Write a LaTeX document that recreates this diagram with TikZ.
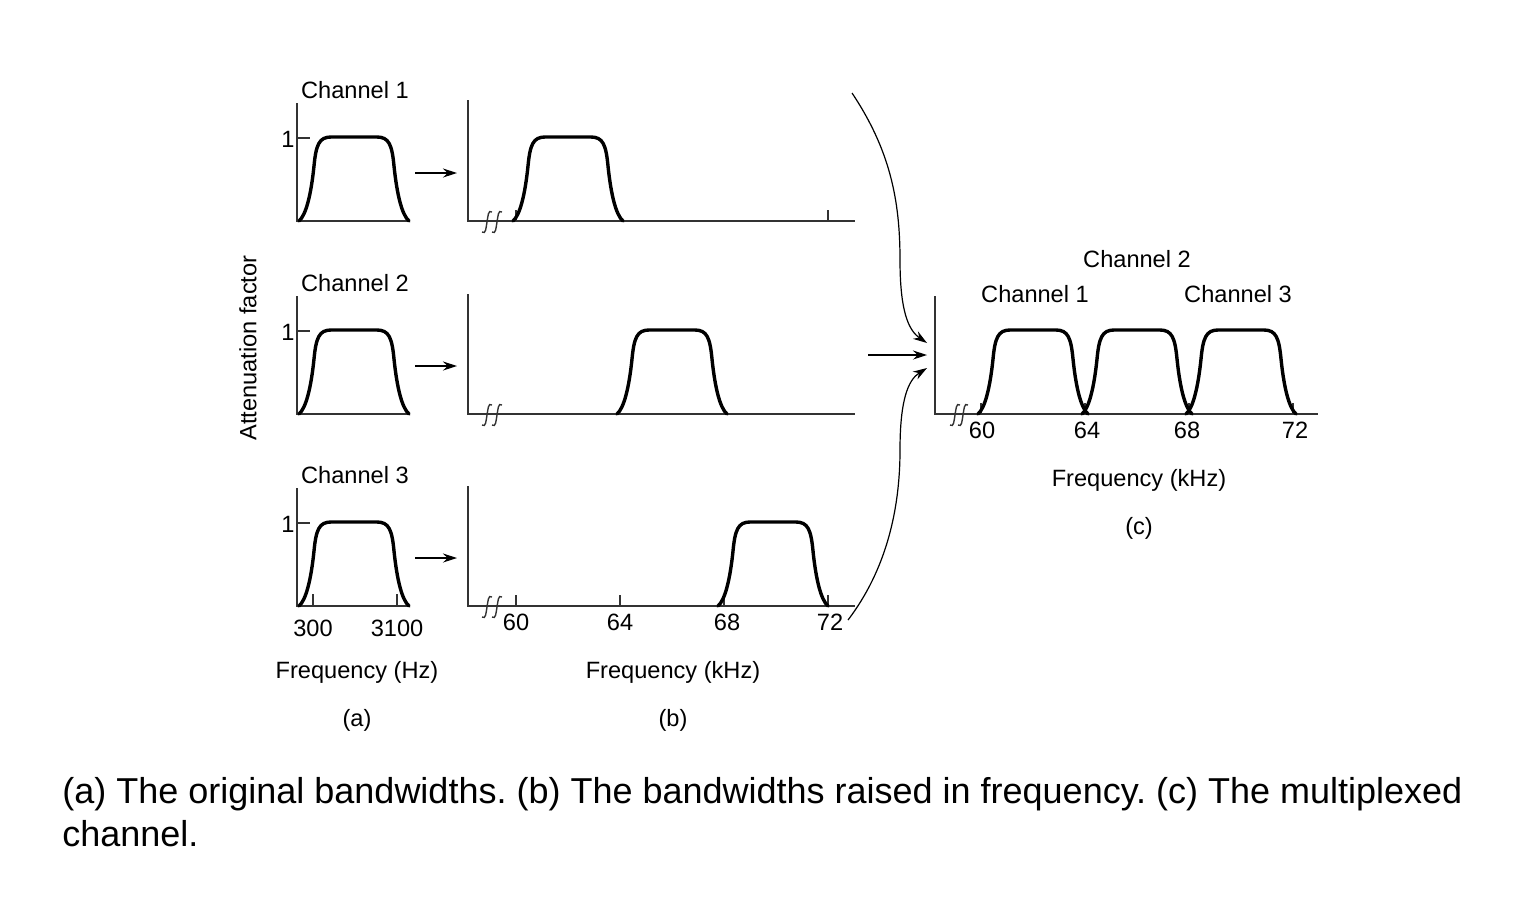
\documentclass[tikz,border=0pt]{standalone}
\usepackage{fontspec}
\setmainfont{Liberation Sans}
\usetikzlibrary{arrows.meta}
\frenchspacing

\tikzset{
  axis/.style={line width=0.8pt, black!80},
  band/.style={line width=1.7pt, line join=round, line cap=round},
  lbl/.style={font=\fontsize{11.8}{14}\selectfont, inner sep=0pt, anchor=base},
  capt/.style={font=\fontsize{18}{21.5}\selectfont, inner sep=0pt, anchor=base west},
  feed/.style={line width=0.6pt, -{Stealth[length=7pt, width=4.5pt]}},
  pulse/.pic={
    \draw[band] (0,0) .. controls (7,-6) and (12,-26) .. (15,-55)
      .. controls (17,-76) and (20,-84) .. (32,-84) -- (78,-84)
      .. controls (90,-84) and (93,-76) .. (95,-55)
      .. controls (98,-26) and (103,-6) .. (110,0);
  },
  brk/.pic={
    \draw[axis, line width=0.7pt] (5,-9) .. controls (1,-12) and (1,-4) .. (0,1)
      .. controls (-1,6) and (-1,14) .. (-5,11);
  }
}

\begin{document}
\begin{tikzpicture}[x=0.5pt, y=-0.5pt]
  \useasboundingbox (0,0) rectangle (1518,917);

  % (a) les trois voies d'origine
  \node[lbl, rotate=90, anchor=center] (att) at (248,348) {Attenuation factor};
  \draw[axis] (297,103) -- (297,221) -- (410,221);
  \draw[axis] (297,138) -- (310,138);
  \node[lbl] (one1) at (288,147.5) {1};
  \node[lbl] (cha1) at (355,98.5) {Channel 1};
  \pic at (299,221) {pulse};

  \draw[axis] (297,296) -- (297,414) -- (410,414);
  \draw[axis] (297,331) -- (310,331);
  \node[lbl] (one2) at (288,340.5) {1};
  \node[lbl] (cha2) at (355,291.5) {Channel 2};
  \pic at (299,414) {pulse};

  \draw[axis] (297,488) -- (297,606) -- (410,606);
  \draw[axis] (297,523) -- (310,523);
  \draw[axis] (313,606) -- (313,594);
  \draw[axis] (397,606) -- (397,594);
  \node[lbl] (one3) at (288,532.5) {1};
  \node[lbl] (cha3) at (355,483.5) {Channel 3};
  \pic at (299,606) {pulse};
  \node[lbl] (t300) at (313,636) {300};
  \node[lbl] (t3100) at (397,636) {3100};
  \node[lbl] (fqa) at (357,678) {Frequency (Hz)};
  \node[lbl] (pa) at (357,726) {(a)};

  % (b) bandes decalees en frequence
  \draw[axis] (468,100) -- (468,221) -- (855,221);
  \draw[axis] (516,221) -- (516,210);
  \draw[axis] (828,221) -- (828,210);
  \pic at (487,221) {brk};
  \pic at (497,221) {brk};
  \pic at (513,221) {pulse};

  \draw[axis] (468,294) -- (468,414) -- (855,414);
  \pic at (487,414) {brk};
  \pic at (497,414) {brk};
  \pic at (617,414) {pulse};

  \draw[axis] (468,486) -- (468,606) -- (855,606);
  \draw[axis] (516,606) -- (516,595);
  \draw[axis] (620,606) -- (620,595);
  \draw[axis] (724,606) -- (724,595);
  \draw[axis] (828,606) -- (828,595);
  \pic at (487,606) {brk};
  \pic at (497,606) {brk};
  \pic at (718,606) {pulse};
  \node[lbl] (b60) at (516,630) {60};
  \node[lbl] (b64) at (620,630) {64};
  \node[lbl] (b68) at (727,630) {68};
  \node[lbl] (b72) at (830,630) {72};
  \node[lbl] (fqb) at (673,678) {Frequency (kHz)};
  \node[lbl] (pb) at (673,726) {(b)};

  % fleches (a) vers (b)
  \coordinate (a1) at (415,173);
  \coordinate (b1) at (457,173);
  \coordinate (a2) at (415,366);
  \coordinate (b2) at (457,366);
  \coordinate (a3) at (415,558);
  \coordinate (b3) at (457,558);
  \draw[feed] (a1) -- (b1);
  \draw[feed] (a2) -- (b2);
  \draw[feed] (a3) -- (b3);

  % (c) canal multiplexe
  \draw[axis] (935,296) -- (935,414) -- (1318,414);
  \draw[axis] (981,414) -- (981,403);
  \draw[axis] (1085,414) -- (1085,403);
  \draw[axis] (1189,414) -- (1189,403);
  \draw[axis] (1293,414) -- (1293,403);
  \pic at (955,414) {brk};
  \pic at (963,414) {brk};
  \pic at (978,414) {pulse};
  \pic at (1082,414) {pulse};
  \pic at (1186,414) {pulse};
  \node[lbl] (c60) at (982,438.5) {60};
  \node[lbl] (c64) at (1087,438.5) {64};
  \node[lbl] (c68) at (1187,438.5) {68};
  \node[lbl] (c72) at (1295,438.5) {72};
  \node[lbl] (chc2) at (1137,267.5) {Channel 2};
  \node[lbl] (chc1) at (1035,302.5) {Channel 1};
  \node[lbl] (chc3) at (1238,302.5) {Channel 3};
  \node[lbl] (fqc) at (1139,486) {Frequency (kHz)};
  \node[lbl] (pc) at (1139,534) {(c)};

  % fleches (b) vers (c)
  \coordinate (top) at (852,93);
  \coordinate (mid) at (868,355);
  \coordinate (bot) at (848,620);
  \coordinate (in1) at (927,343);
  \coordinate (in2) at (927,355);
  \coordinate (in3) at (927,368);
  \draw[feed] (top) .. controls (890,150) and (900,200) .. (900,260)
    .. controls (900,310) and (908,330) .. (in1);
  \draw[feed] (mid) -- (in2);
  \draw[feed] (bot) .. controls (886,570) and (900,510) .. (900,450)
    .. controls (900,400) and (908,380) .. (in3);

  % legende
  \node[capt] (cap1) at (62,803) {(a) The original bandwidths. (b) The bandwidths raised in frequency. (c) The multiplexed};
  \node[capt] (cap2) at (62,846) {channel.};
\end{tikzpicture}
\end{document}
